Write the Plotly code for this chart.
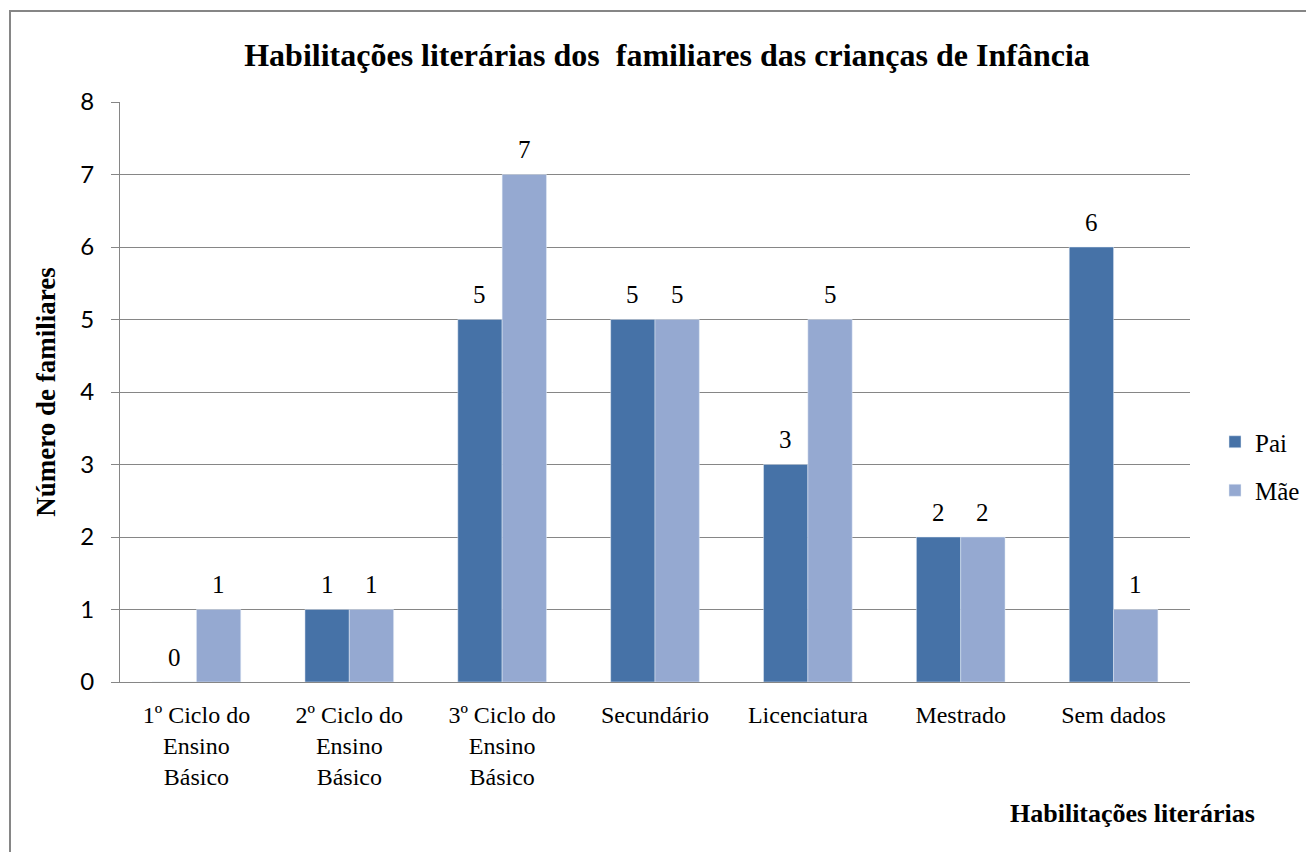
import plotly.graph_objects as go

categories = ["1º Ciclo do<br>Ensino<br>Básico", "2º Ciclo do<br>Ensino<br>Básico",
              "3º Ciclo do<br>Ensino<br>Básico", "Secundário", "Licenciatura",
              "Mestrado", "Sem dados"]
pai = [0, 1, 5, 5, 3, 2, 6]
mae = [1, 1, 7, 5, 5, 2, 1]

# page has an 8px body margin; figure coordinates are page - 8
W, H = 1306, 844
L, T = 112, 94
pw, ph = 1070, 580
R, B = W - L - pw, H - T - ph
BARGAP = 0.42

serif = "Liberation Serif"
sans = "Lato, Open Sans, sans-serif"

fig = go.Figure()
fig.add_trace(go.Bar(x=categories, y=pai, name="Pai", marker_color="#4672A7",
                     legendgroup="a"))
fig.add_trace(go.Bar(x=categories, y=mae, name="Mãe", marker_color="#95A9D1",
                     legendgroup="b"))

# value labels above each bar, placed through the axes
half = pw / len(categories) * (1 - BARGAP) / 4
for series, sign in ((pai, -1), (mae, 1)):
    for cat, v in zip(categories, series):
        fig.add_annotation(x=cat, y=v, xref="x", yref="y", text=str(v), showarrow=False,
                           xshift=sign * half, yshift=25, xanchor="center", yanchor="middle",
                           font=dict(family=serif, size=25, color="black"))

fig.update_layout(
    width=W, height=H,
    font=dict(family=serif, color="black"),
    margin=dict(l=L, r=R, t=T, b=B, autoexpand=False),
    paper_bgcolor="white", plot_bgcolor="white",
    barmode="group", bargap=BARGAP, bargroupgap=0,
    title=dict(text="<b>Habilitações literárias dos  familiares das crianças de Infância</b>",
               xref="paper", x=(659 - 8 - L) / pw + 8 / pw, xanchor="center",
               yref="container", y=1 - 47 / H, yanchor="middle",
               font=dict(family=serif, size=32, color="black")),
    legend=dict(x=(1215 - 8 - L) / pw, y=1 - (466 - 8 - T) / ph, xanchor="left", yanchor="middle",
                font=dict(family=serif, size=25, color="black"),
                itemwidth=30, traceorder="grouped", tracegroupgap=13),
    showlegend=True,
    xaxis=dict(showline=True, linecolor="#868686", linewidth=1,
               tickfont=dict(family=serif, size=24, color="black"),
               ticks="", showgrid=False, ticklabelstandoff=11, automargin=False),
    yaxis=dict(range=[0, 8], dtick=1, showline=True, linecolor="#868686", linewidth=1,
               gridcolor="#868686", gridwidth=1, ticks="outside", ticklen=8,
               tickcolor="#868686", tickfont=dict(family=sans, size=24, color="black"),
               ticklabelstandoff=12, automargin=False,
               title=dict(text="<b>Número de familiares</b>", standoff=16,
                          font=dict(family=serif, size=27, color="black")),
               zeroline=False),
)

fig.add_annotation(text="<b>Habilitações literárias</b>", xref="paper", yref="paper",
                   x=(1132 - 8 - L) / pw, y=1 - (813 - 8 - T) / ph, xanchor="center", yanchor="middle",
                   showarrow=False, font=dict(family=serif, size=26, color="black"))

fig.add_shape(type="rect", xref="paper", yref="paper",
              x0=(2 - L) / pw, x1=(1330 - L) / pw,
              y0=1 - (870 - T) / ph, y1=1 + (T - 3) / ph,
              line=dict(color="#868686", width=2), fillcolor="rgba(0,0,0,0)", layer="below")

fig.write_html("out.html")
